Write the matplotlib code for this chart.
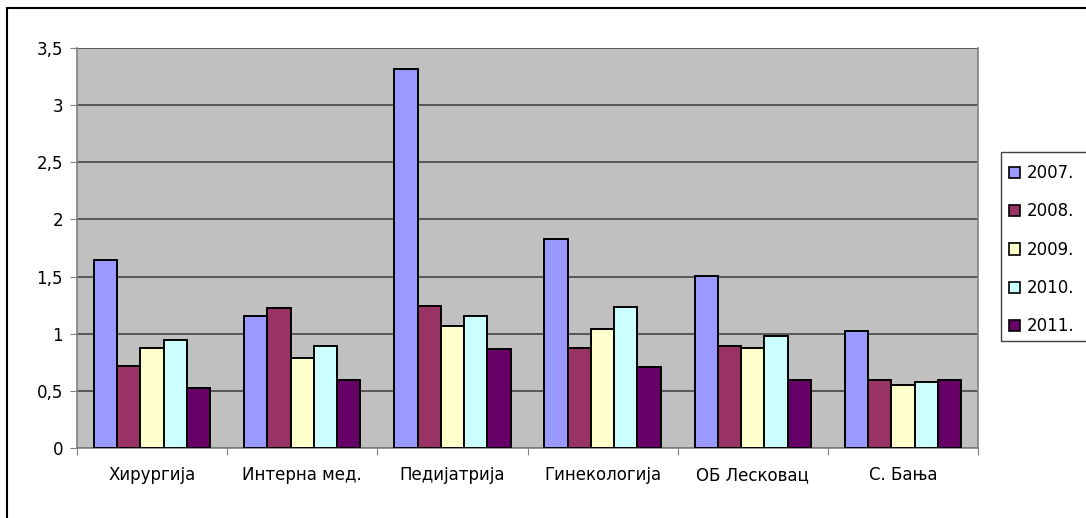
import matplotlib
matplotlib.use("Agg")
import matplotlib.pyplot as plt
import numpy as np
from matplotlib.patches import Patch, Rectangle

categories = ["Хирургија", "Интерна мед.", "Педијатрија", "Гинекологија", "ОБ Лесковац", "С. Бања"]
years = ["2007.", "2008.", "2009.", "2010.", "2011."]
v2007 = [1.645, 1.157, 3.313, 1.826, 1.505, 1.021]
v2008 = [0.72, 1.225, 1.242, 0.878, 0.895, 0.598]
v2009 = [0.875, 0.79, 1.07, 1.038, 0.878, 0.548]
v2010 = [0.948, 0.895, 1.157, 1.231, 0.983, 0.58]
v2011 = [0.527, 0.598, 0.863, 0.709, 0.598, 0.598]
series = [v2007, v2008, v2009, v2010, v2011]
colors = ["#9999FF", "#993366", "#FFFFCC", "#CCFFFF", "#660066"]
yticks = [0, 0.5, 1, 1.5, 2, 2.5, 3, 3.5]
ytick_labels = ["0", "0,5", "1", "1,5", "2", "2,5", "3", "3,5"]

plt.rcParams["font.family"] = ["DejaVu Sans"]
W, H = 1086, 518
fig = plt.figure(figsize=(W / 100, H / 100), dpi=100)
fig.patch.set_facecolor("white")

# outer chart frame (runs off the right and bottom edges)
fig.patches.append(Rectangle((6.5 / W, -0.2), 1.2, 1 - 7.5 / H + 0.2,
                             transform=fig.transFigure, fill=False,
                             edgecolor="black", linewidth=1.5, zorder=0))

left, right, top, bottom = 77, 978, 48, 448
ax = fig.add_axes([left / W, 1 - bottom / H, (right - left) / W, (bottom - top) / H])
ax.set_facecolor("#C0C0C0")

x = np.arange(len(categories))
bw = 0.155
for k, (vals, col, lab) in enumerate(zip(series, colors, years)):
    ax.bar(x + (k - 2) * bw, vals, width=bw, color=col, edgecolor="black",
           linewidth=1.4, label=lab, zorder=3)

ax.set_xlim(-0.5, len(categories) - 0.5)
ax.set_ylim(0, 3.5)
ax.set_yticks(yticks)
ax.set_yticklabels(ytick_labels, fontsize=12)
ax.yaxis.grid(True, color="#3a3a3a", linewidth=1.1, zorder=1)
ax.set_axisbelow(True)

ax.set_xticks(np.arange(len(categories) + 1) - 0.5)
ax.set_xticklabels([])
ax.set_xticks(x, minor=True)
ax.set_xticklabels(categories, minor=True, fontsize=12)
ax.tick_params(axis="x", which="minor", length=0, pad=13)
ax.tick_params(axis="x", which="major", length=5, color="#808080", direction="out")
ax.tick_params(axis="y", length=5, color="#808080", direction="out", pad=5)

for s in ["left", "bottom", "right"]:
    ax.spines[s].set_color("#808080")
    ax.spines[s].set_linewidth(1.2)
ax.spines["top"].set_visible(False)

# legend box (its right side lies beyond the figure edge)
fig.patches.append(Rectangle((1000.5 / W, 1 - 341 / H), 0.2, (341 - 152) / H,
                             transform=fig.transFigure, facecolor="white",
                             edgecolor="#404040", linewidth=1.0, zorder=1))
handles = [Patch(facecolor=c, edgecolor="black", linewidth=1.2) for c in colors]
leg = fig.legend(handles, years, loc="upper left",
                 bbox_to_anchor=(1000 / W, 1 - 155 / H), fontsize=12,
                 frameon=False, handlelength=0.65, handleheight=0.65,
                 handletextpad=0.4, labelspacing=1.22, borderpad=0.55,
                 borderaxespad=0)
leg.set_zorder(2)

fig.savefig("out.png", dpi=100)
